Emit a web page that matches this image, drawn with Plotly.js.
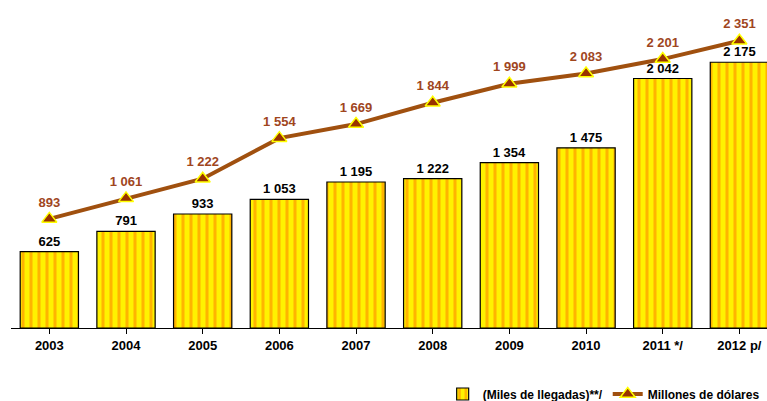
<!DOCTYPE html>
<html><head><meta charset="utf-8">
<script src="https://cdn.plot.ly/plotly-3.0.1.min.js"></script>
<style>html,body{margin:0;padding:0;background:#fff}#c{width:767px;height:401px}</style>
</head><body><div id="c"></div>
<script>
const years = ["2003","2004","2005","2006","2007","2008","2009","2010","2011 */","2012 p/"];
const llegadas = [625,791,933,1053,1195,1222,1354,1475,2042,2175];
const dolares = [893,1061,1222,1554,1669,1844,1999,2083,2201,2351];
const fmt = v => { const s = String(v); return s.length > 3 ? s.slice(0, s.length-3) + " " + s.slice(-3) : s; };
const xs = years.map((_, i) => i);
const F = 'Liberation Sans, Arial, sans-serif';

const bars = {
  type: 'bar', x: xs, y: llegadas, name: '(Miles de llegadas)**/',
  width: 0.76,
  marker: {color: '#FFF200', line: {color: '#000', width: 1.2},
           pattern: {shape: '|', fgcolor: '#FFB400', bgcolor: '#FFF200', size: 8, solidity: 0.38}},
  text: llegadas.map(fmt), textposition: 'outside', cliponaxis: false,
  textfont: {family: F, size: 13, color: '#000', weight: 'bold'},
  hoverinfo: 'none'
};
const line = {
  type: 'scatter', mode: 'lines+markers+text', x: xs, y: dolares, name: 'Millones de dólares',
  line: {color: '#A0500F', width: 4},
  marker: {symbol: 'triangle-up', size: 13, color: '#993300', line: {color: '#FFFF00', width: 1.5}},
  text: dolares.map(fmt), textposition: 'top center', cliponaxis: false,
  textfont: {family: F, size: 13, color: '#A0461E', weight: 'bold'},
  hoverinfo: 'none'
};
Plotly.newPlot('c', [bars, line], {
  width: 767, height: 401,
  margin: {l: 11, r: 0, t: 30, b: 73, autoexpand: false},
  paper_bgcolor: '#fff', plot_bgcolor: '#fff',
  showlegend: true,
  legend: {orientation: 'h', x: 0.571, y: 0.0175, yref: 'container', xanchor: 'left', yanchor: 'middle',
           font: {family: F, size: 12, color: '#000', weight: 'bold'},
           itemwidth: 30, tracegroupgap: 0},
  bargap: 0.24,
  xaxis: {range: [-0.5, 9.36], tickvals: xs, ticktext: years, showline: true, linecolor: '#000', linewidth: 1,
          ticks: 'outside', tickson: 'boundaries', ticklen: 5, tickcolor: '#000', showgrid: false, zeroline: false,
          tickfont: {family: F, size: 13, color: '#000', weight: 'bold'}, fixedrange: true},
  yaxis: {range: [0, 2439], visible: false, showgrid: false, zeroline: false, fixedrange: true}
}, {displayModeBar: false, staticPlot: true});
</script></body></html>
